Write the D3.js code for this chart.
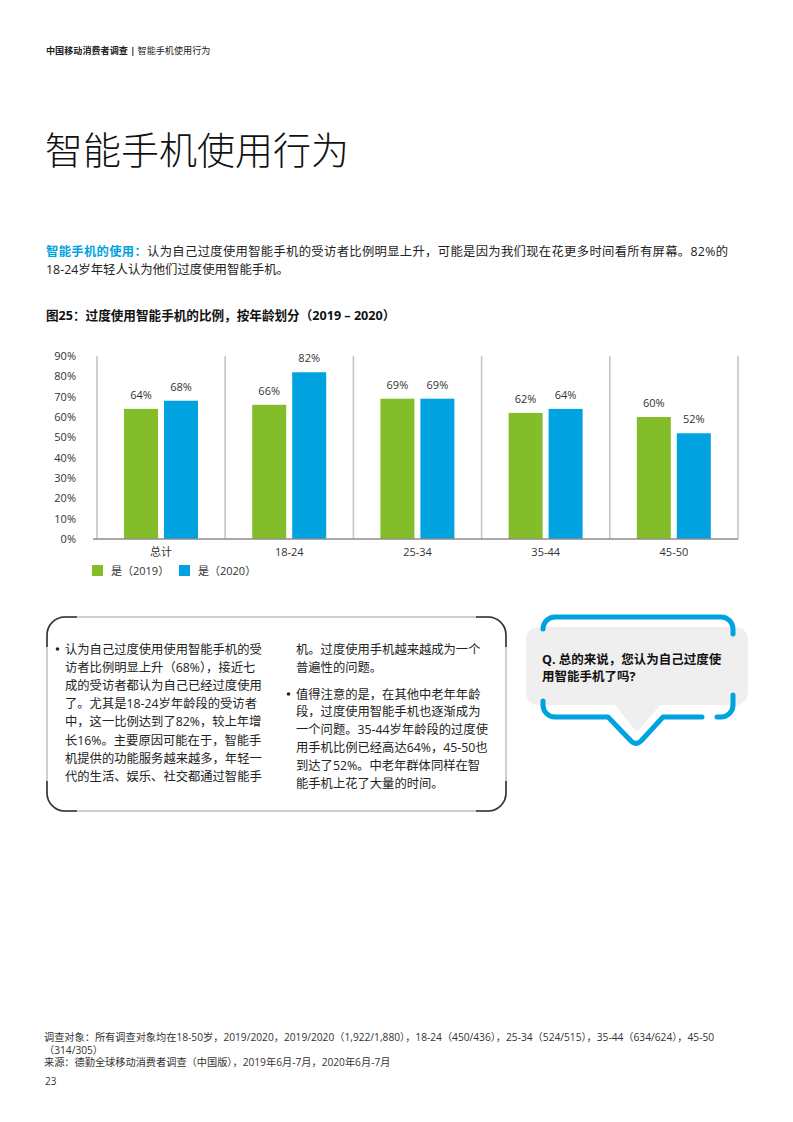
<!DOCTYPE html>
<html><head><meta charset="utf-8">
<script src="https://cdn.jsdelivr.net/npm/d3@7"></script>
<style>
body{margin:0;background:#fff;}
svg{display:block;font-family:"Open Sans","Noto Sans CJK SC",sans-serif;}
</style></head>
<body>
<svg id="page" width="793" height="1122"></svg>
<script>
// ---- data ----
const categories = ["总计", "18-24", "25-34", "35-44", "45-50"];
const series = ["是（2019）", "是（2020）"];
const values2019 = [64, 66, 69, 62, 60];
const values2020 = [68, 82, 69, 64, 52];
const yTicks = [0, 10, 20, 30, 40, 50, 60, 70, 80, 90];
const colors = ["#84BD2A", "#00A3E0"];

const leftLines = [
  "认为自己过度使用使用智能手机的受",
  "访者比例明显上升（68%），接近七",
  "成的受访者都认为自己已经过度使用",
  "了。尤其是18-24岁年龄段的受访者",
  "中，这一比例达到了82%，较上年增",
  "长16%。主要原因可能在于，智能手",
  "机提供的功能服务越来越多，年轻一",
  "代的生活、娱乐、社交都通过智能手"
];
const rightLines1 = ["机。过度使用手机越来越成为一个", "普遍性的问题。"];
const rightLines2 = [
  "值得注意的是，在其他中老年年龄",
  "段，过度使用智能手机也逐渐成为",
  "一个问题。35-44岁年龄段的过度使",
  "用手机比例已经高达64%，45-50也",
  "到达了52%。中老年群体同样在智",
  "能手机上花了大量的时间。"
];

const svg = d3.select("#page");
const txt = "#222";

// ---- header ----
const hdr = svg.append("text").attr("x", 46).attr("y", 54).attr("font-size", 9.1).attr("fill", txt);
hdr.append("tspan").attr("font-weight", "bold").text("中国移动消费者调查 | ");
hdr.append("tspan").text("智能手机使用行为");

svg.append("text").attr("x", 45).attr("y", 164).attr("font-size", 38).attr("font-weight", 300)
  .attr("fill", "#111").attr("font-family", "Noto Sans CJK SC").text("智能手机使用行为");

const p1 = svg.append("text").attr("x", 46).attr("y", 256).attr("font-size", 12.3).attr("fill", txt);
p1.append("tspan").attr("fill", "#00A3E0").attr("font-weight", "bold").text("智能手机的使用：");
p1.append("tspan").text("认为自己过度使用智能手机的受访者比例明显上升，可能是因为我们现在花更多时间看所有屏幕。82%的");
const w1 = p1.node().getComputedTextLength();
if (w1 < 682) p1.attr("textLength", 682).attr("lengthAdjust", "spacing");
svg.append("text").attr("x", 46).attr("y", 274).attr("font-size", 12.4).attr("fill", txt)
  .text("18-24岁年轻人认为他们过度使用智能手机。");

svg.append("text").attr("x", 46).attr("y", 320).attr("font-size", 12.6).attr("font-weight", "bold")
  .attr("fill", "#111").text("图25：过度使用智能手机的比例，按年龄划分（2019 – 2020）");

// ---- chart ----
const x0 = d3.scaleBand().domain(categories).range([97, 738]);
const x1 = d3.scaleBand().domain(series).range([27, 101]).paddingInner(0.15);
const y = d3.scaleLinear().domain([0, 90]).range([539, 356]);
const g = svg.append("g");

// vertical separators
const bounds = categories.map(c => x0(c)).concat([x0.range()[1]]);
g.selectAll("line.sep").data(bounds).join("line").attr("class", "sep")
  .attr("x1", d => d).attr("x2", d => d).attr("y1", y(90)).attr("y2", y(0))
  .attr("stroke", "#C4C4C4").attr("stroke-width", 1.6);

// y axis
const ya = g.append("g").attr("transform", `translate(${x0.range()[0]},0)`)
  .call(d3.axisLeft(y).tickValues(yTicks).tickSize(0).tickPadding(21).tickFormat(d => d + "%"));
ya.select(".domain").remove();
ya.selectAll("text").attr("font-size", 11).attr("fill", "#333").attr("font-family", "Open Sans");

// bars
const rows = categories.map((c, i) => ({c, v: [values2019[i], values2020[i]]}));
const grp = g.selectAll("g.cat").data(rows).join("g").attr("class", "cat")
  .attr("transform", d => `translate(${x0(d.c)},0)`);
grp.selectAll("rect").data(d => d.v.map((v, j) => ({s: series[j], v, j}))).join("rect")
  .attr("x", d => x1(d.s)).attr("width", x1.bandwidth())
  .attr("y", d => y(d.v)).attr("height", d => y(0) - y(d.v))
  .attr("fill", d => colors[d.j]);
grp.selectAll("text.val").data(d => d.v.map((v, j) => ({s: series[j], v, j}))).join("text")
  .attr("class", "val").attr("x", d => x1(d.s) + x1.bandwidth() / 2).attr("y", d => y(d.v) - 10)
  .attr("text-anchor", "middle").attr("font-size", 11).attr("fill", "#333").text(d => d.v + "%");

// x axis
const xa = g.append("g").attr("transform", `translate(0,${y(0)})`)
  .call(d3.axisBottom(x0).tickSize(0).tickPadding(9));
xa.select(".domain").remove();
xa.selectAll("text").attr("font-size", 11).attr("fill", "#333").attr("font-family", "Open Sans, Noto Sans CJK SC");
g.append("line").attr("x1", 93).attr("x2", x0.range()[1]).attr("y1", y(0)).attr("y2", y(0))
  .attr("stroke", "#8C8C8C").attr("stroke-width", 1.6);

// legend
const lg = svg.append("g").attr("transform", "translate(92,565)");
const li = lg.selectAll("g").data(series).join("g").attr("transform", (d, i) => `translate(${i * 87},0)`);
li.append("rect").attr("width", 11).attr("height", 11).attr("fill", (d, i) => colors[i]);
li.append("text").attr("x", 19).attr("y", 9.5).attr("font-size", 11).attr("fill", "#333").text(d => d);

// ---- text box ----
const bx = 47, by = 617, bw = 459, bh = 194, r = 18;
svg.append("rect").attr("x", bx).attr("y", by).attr("width", bw).attr("height", bh).attr("rx", r)
  .attr("fill", "none").attr("stroke", "#CFCFCF").attr("stroke-width", 2);
const ext = 12;
const corners = [
  `M${bx},${by + r + ext} L${bx},${by + r} A${r},${r} 0 0 1 ${bx + r},${by} L${bx + r + ext},${by}`,
  `M${bx + bw - r - ext},${by} L${bx + bw - r},${by} A${r},${r} 0 0 1 ${bx + bw},${by + r} L${bx + bw},${by + r + ext}`,
  `M${bx + bw},${by + bh - r - ext} L${bx + bw},${by + bh - r} A${r},${r} 0 0 1 ${bx + bw - r},${by + bh} L${bx + bw - r - ext},${by + bh}`,
  `M${bx + r + ext},${by + bh} L${bx + r},${by + bh} A${r},${r} 0 0 1 ${bx},${by + bh - r} L${bx},${by + bh - r - ext}`
];
svg.selectAll("path.corner").data(corners).join("path").attr("class", "corner").attr("d", d => d)
  .attr("fill", "none").attr("stroke", "#333").attr("stroke-width", 1.6);

const fs = 12.3;
svg.append("circle").attr("cx", 57.5).attr("cy", 649).attr("r", 1.8).attr("fill", txt);
svg.selectAll("text.ll").data(leftLines).join("text").attr("class", "ll")
  .attr("x", 65).attr("y", (d, i) => 653.5 + i * 18.2).attr("font-size", fs).attr("fill", txt).text(d => d);
svg.selectAll("text.r1").data(rightLines1).join("text").attr("class", "r1")
  .attr("x", 296).attr("y", (d, i) => 653.5 + i * 18).attr("font-size", fs).attr("fill", txt).text(d => d);
svg.append("circle").attr("cx", 288.5).attr("cy", 694).attr("r", 1.8).attr("fill", txt);
svg.selectAll("text.r2").data(rightLines2).join("text").attr("class", "r2")
  .attr("x", 296).attr("y", (d, i) => 698.5 + i * 17.8).attr("font-size", fs).attr("fill", txt).text(d => d);

// ---- speech bubble ----
svg.append("path")
  .attr("d", "M540,627 L734,627 Q748,627 748,641 L748,691 Q748,705 734,705 L660,705 L640,729 Q637,733 634,729 L615,705 L540,705 Q526,705 526,691 L526,641 Q526,627 540,627 Z")
  .attr("fill", "#EFEFEF");
const blue = [
  "M543,629 A12,12 0 0 1 555,617 L721,617 A12,12 0 0 1 733,629 L733,634",
  "M543,701 L543,705 A12,12 0 0 0 555,717 L608,717 L631,741 Q636,746 641,741 L663,717 L702,717",
  "M717,717 L721,717 A12,12 0 0 0 733,705 L733,695"
];
svg.selectAll("path.blue").data(blue).join("path").attr("class", "blue").attr("d", d => d)
  .attr("fill", "none").attr("stroke", "#00A3E0").attr("stroke-width", 5)
  .attr("stroke-linecap", "round").attr("stroke-linejoin", "round");
svg.append("text").attr("x", 542).attr("y", 664).attr("font-size", 12.5).attr("font-weight", "bold")
  .attr("fill", "#111").text("Q. 总的来说，您认为自己过度使");
svg.append("text").attr("x", 542).attr("y", 681).attr("font-size", 12.5).attr("font-weight", "bold")
  .attr("fill", "#111").text("用智能手机了吗?");

// ---- footer ----
const foot = [
  "调查对象：所有调查对象均在18-50岁，2019/2020，2019/2020（1,922/1,880），18-24（450/436），25-34（524/515），35-44（634/624），45-50",
  "（314/305）",
  "来源：德勤全球移动消费者调查（中国版），2019年6月-7月，2020年6月-7月"
];
svg.selectAll("text.foot").data(foot).join("text").attr("class", "foot")
  .attr("x", 44).attr("y", (d, i) => 1041 + i * 12.5).attr("font-size", 10.2).attr("fill", "#333").text(d => d);
svg.append("text").attr("x", 45).attr("y", 1085).attr("font-size", 10).attr("fill", "#333").text("23");
</script>
</body></html>
